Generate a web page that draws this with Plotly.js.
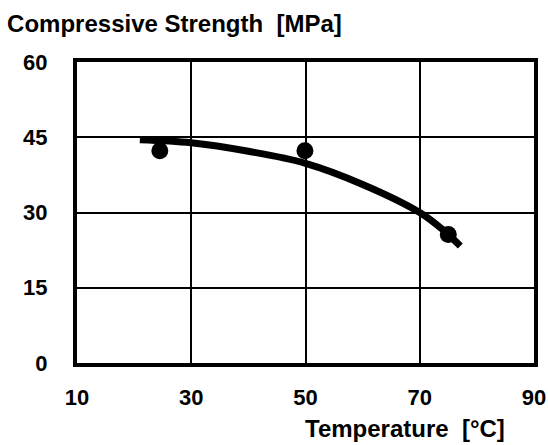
<!DOCTYPE html>
<html>
<head>
<meta charset="utf-8">
<script src="https://cdn.plot.ly/plotly-3.0.1.min.js"></script>
<style>html,body{margin:0;padding:0;background:#fff;}#chart{width:548px;height:445px;}</style>
</head>
<body>
<div id="chart"></div>
<script>
// Measured data points
const tempPoints = [24.5, 49.9, 75.0];
const strengthPoints = [42.3, 42.3, 25.6];
// Fitted curve
const curveTemp = [21, 30, 40, 50, 60, 70, 74, 77.1];
const curveStrength = [44.5, 43.9, 42.2, 39.8, 35.6, 30.0, 26.6, 23.3];
// Axis ticks
const xTicks = [10, 30, 50, 70, 90];
const yTicks = [0, 15, 30, 45, 60];

const FONT = 'Liberation Sans, Arial, sans-serif';

const traces = [
  {
    x: curveTemp, y: curveStrength, type: 'scatter', mode: 'lines',
    line: {color: '#000', width: 7, shape: 'spline', smoothing: 1},
    hoverinfo: 'skip', showlegend: false
  },
  {
    x: tempPoints, y: strengthPoints, type: 'scatter', mode: 'markers',
    marker: {color: '#000', size: 17}, showlegend: false
  }
];

const layout = {
  width: 548, height: 445,
  margin: {l: 77, r: 14, t: 62, b: 82},
  paper_bgcolor: '#fff', plot_bgcolor: '#fff',
  font: {family: FONT, color: '#000'},
  title: {
    text: '<b>Compressive Strength\u00a0\u00a0[MPa]</b>',
    font: {family: FONT, size: 24, color: '#000'},
    x: 0.013, xanchor: 'left', xref: 'container',
    y: 0.948, yanchor: 'middle', yref: 'container'
  },
  xaxis: {
    range: [10, 90], tickvals: xTicks, ticktext: xTicks.map(v => '<b>' + v + '</b>'),
    showgrid: true, gridcolor: '#000', gridwidth: 2, zeroline: false,
    showline: true, mirror: true, linecolor: '#000', linewidth: 4,
    ticks: '', ticklabelstandoff: 12,
    tickfont: {family: FONT, size: 22, color: '#000'}
  },
  yaxis: {
    range: [0, 60], tickvals: yTicks, ticktext: yTicks.map(v => '<b>' + v + '</b>'),
    showgrid: true, gridcolor: '#000', gridwidth: 2, zeroline: false,
    showline: true, mirror: true, linecolor: '#000', linewidth: 4,
    ticks: '', ticklabelstandoff: 21,
    tickfont: {family: FONT, size: 22, color: '#000'}
  },
  annotations: [{
    text: '<b>Temperature\u00a0\u00a0[°C]</b>',
    xref: 'paper', yref: 'paper', x: 0.941, y: -0.216,
    xanchor: 'right', yanchor: 'middle', showarrow: false,
    font: {family: FONT, size: 24, color: '#000'}
  }]
};

Plotly.newPlot('chart', traces, layout, {displayModeBar: false, staticPlot: true});
</script>
</body>
</html>
